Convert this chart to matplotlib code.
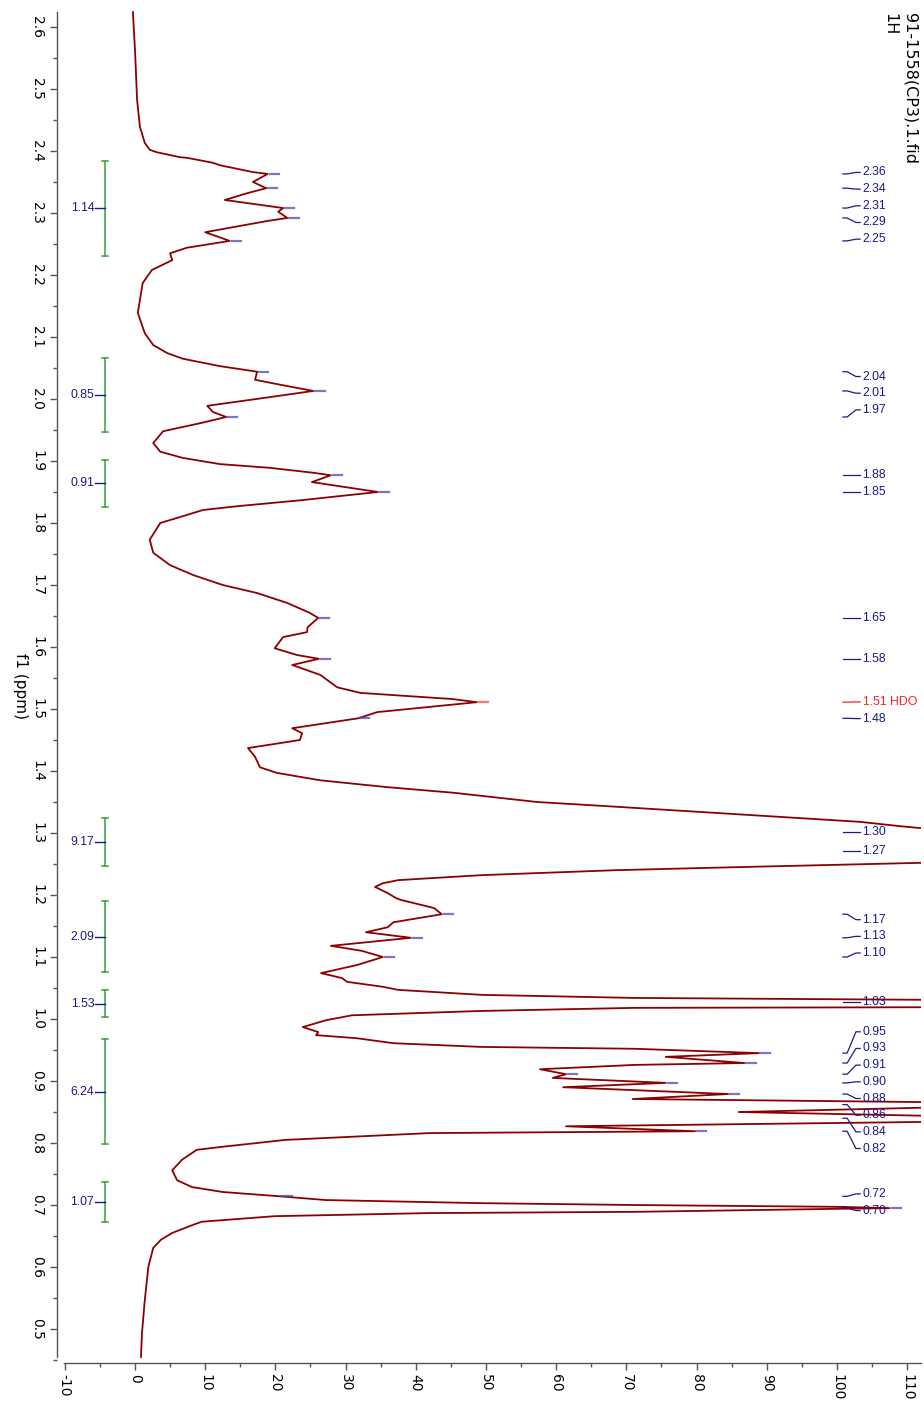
import numpy as np
import matplotlib
matplotlib.use("Agg")
import matplotlib.pyplot as plt
from matplotlib.ticker import MultipleLocator, FormatStrFormatter

# spectrum: chemical shift (ppm) and intensity
ppm = [2.624, 2.563, 2.482, 2.439, 2.413, 2.402, 2.398, 2.390, 2.389, 2.381,
       2.377, 2.366, 2.363, 2.350, 2.340, 2.332, 2.321, 2.308, 2.302, 2.292,
       2.287, 2.269, 2.255, 2.244, 2.235, 2.224, 2.208, 2.187, 2.139, 2.106,
       2.087, 2.074, 2.065, 2.053, 2.044, 2.031, 2.023, 2.013, 2.003, 1.989,
       1.979, 1.971, 1.961, 1.948, 1.929, 1.915, 1.905, 1.895, 1.889, 1.881,
       1.877, 1.866, 1.850, 1.837, 1.827, 1.821, 1.813, 1.800, 1.773, 1.752,
       1.732, 1.716, 1.700, 1.687, 1.671, 1.655, 1.647, 1.632, 1.624, 1.616,
       1.598, 1.587, 1.581, 1.571, 1.555, 1.535, 1.526, 1.516, 1.511, 1.495,
       1.485, 1.469, 1.461, 1.450, 1.437, 1.423, 1.406, 1.397, 1.385, 1.374,
       1.365, 1.350, 1.344, 1.334, 1.324, 1.318, 1.311, 1.308, 1.302, 1.287,
       1.271, 1.252, 1.245, 1.240, 1.232, 1.224, 1.219, 1.213, 1.203, 1.195,
       1.192, 1.179, 1.169, 1.156, 1.148, 1.140, 1.131, 1.118, 1.110, 1.100,
       1.087, 1.074, 1.066, 1.060, 1.052, 1.047, 1.039, 1.034, 1.031, 1.028,
       1.019, 1.018, 1.013, 1.006, 0.998, 0.987, 0.979, 0.974, 0.969, 0.961,
       0.955, 0.952, 0.945, 0.939, 0.929, 0.926, 0.919, 0.911, 0.905, 0.897,
       0.890, 0.879, 0.871, 0.866, 0.862, 0.857, 0.850, 0.844, 0.840, 0.834,
       0.827, 0.819, 0.816, 0.805, 0.794, 0.789, 0.773, 0.756, 0.740, 0.729,
       0.721, 0.714, 0.708, 0.703, 0.700, 0.697, 0.695, 0.694, 0.689, 0.687,
       0.682, 0.673, 0.669, 0.655, 0.644, 0.631, 0.600, 0.547, 0.494, 0.455]
intensity = [-0.3, 0.0, 0.3, 0.7, 1.4, 2.1, 3.1, 6.4, 7.4, 11.1,
             12.1, 16.8, 18.9, 16.8, 18.7, 16.0, 12.8, 21.1, 20.4, 21.7,
             18.8, 10.0, 13.5, 7.4, 5.0, 5.3, 2.4, 1.1, 0.4, 1.4,
             2.6, 4.6, 6.8, 12.1, 17.4, 17.1, 20.7, 25.4, 19.2, 10.3,
             11.1, 13.0, 9.3, 4.0, 2.6, 3.6, 6.8, 12.1, 19.2, 25.4,
             27.9, 25.2, 34.6, 23.9, 14.5, 9.7, 7.4, 3.6, 2.1, 2.6,
             5.0, 8.3, 12.5, 17.4, 21.7, 24.9, 26.1, 24.6, 24.5, 21.1,
             19.9, 23.1, 26.2, 22.4, 26.4, 28.8, 32.1, 45.3, 48.7, 34.5,
             31.8, 22.4, 23.8, 23.5, 16.1, 17.1, 17.8, 20.2, 26.4, 35.9,
             45.3, 57.3, 66.2, 80.5, 94.7, 103.3, 109.0, 111.8, 150.0, 135.0,
             160.0, 112.3, 86.0, 68.4, 49.3, 37.5, 35.3, 34.2, 36.0, 37.2,
             37.9, 42.6, 43.7, 36.8, 36.0, 32.9, 39.3, 27.9, 32.3, 35.3,
             31.6, 26.5, 29.5, 30.2, 35.3, 37.5, 49.3, 71.2, 112.3, 140.0,
             112.3, 71.2, 49.3, 30.9, 27.2, 23.9, 26.1, 25.8, 31.6, 36.8,
             49.3, 71.2, 88.9, 75.6, 86.8, 71.2, 57.7, 61.4, 59.5, 75.6,
             61.0, 84.5, 70.9, 112.3, 140.0, 112.3, 86.0, 112.3, 150.0, 112.3,
             61.4, 79.8, 41.9, 21.4, 12.5, 8.8, 6.7, 5.3, 6.0, 8.1,
             12.5, 20.7, 27.2, 49.3, 71.2, 100.7, 107.5, 100.7, 71.2, 41.9,
             19.9, 9.5, 8.5, 5.3, 3.7, 2.6, 1.9, 1.4, 1.0, 0.85]

# peak picking
peak_ppm = [2.363, 2.340, 2.308, 2.292, 2.255, 2.044, 2.013, 1.971, 1.877, 1.850,
            1.647, 1.581, 1.511, 1.485, 1.302, 1.271, 1.169, 1.131, 1.100, 1.028,
            0.945, 0.929, 0.911, 0.897, 0.879, 0.862, 0.840, 0.819, 0.714, 0.695]
peak_height = [18.9, 18.7, 21.1, 21.7, 13.5, 17.4, 25.4, 13.0, 27.9, 34.6,
               26.1, 26.2, 48.7, 31.8, 150.0, 160.0, 43.7, 39.3, 35.3, 140.0,
               88.9, 86.8, 61.4, 75.6, 84.5, 140.0, 150.0, 79.8, 20.7, 107.5]
peak_label = ["2.36", "2.34", "2.31", "2.29", "2.25", "2.04", "2.01", "1.97", "1.88", "1.85",
              "1.65", "1.58", "1.51 HDO", "1.48", "1.30", "1.27", "1.17", "1.13", "1.10", "1.03",
              "0.95", "0.93", "0.91", "0.90", "0.88", "0.86", "0.84", "0.82", "0.72", "0.70"]
peak_group = [1, 1, 1, 1, 1, 2, 2, 2, 3, 4,
              5, 6, 7, 8, 9, 10, 11, 11, 11, 12,
              13, 13, 13, 13, 13, 13, 13, 13, 14, 15]

# integrals
integral_start = [2.384, 2.066, 1.902, 1.324, 1.190, 1.047, 0.968, 0.737]
integral_end = [2.231, 1.947, 1.826, 1.247, 1.076, 1.003, 0.798, 0.673]
integral_value = ["1.14", "0.85", "0.91", "9.17", "2.09", "1.53", "6.24", "1.07"]

NAVY = "#1a1a8a"
GREEN = "#3a9e3a"
SPEC = "#8b0000"


def spread_labels(pos, groups, gap):
    pos = np.array(pos, dtype=float)
    lab = pos.copy()
    for g in sorted(set(groups)):
        idx = [i for i in range(len(pos)) if groups[i] == g]
        if len(idx) > 1:
            c = pos[idx].mean()
            for k, i in enumerate(idx):
                lab[i] = c + gap * ((len(idx) - 1) / 2 - k)
    for _ in range(200):
        moved = False
        for i in range(len(lab) - 1):
            d = lab[i] - lab[i + 1]
            if d < gap - 1e-9:
                s = (gap - d) / 2
                lab[i] += s
                lab[i + 1] -= s
                moved = True
        if not moved:
            break
    return lab


plt.rcParams['axes.unicode_minus'] = False
plt.rcParams['font.family'] = 'DejaVu Sans'

W, H = 924, 1405
fig = plt.figure(figsize=(W / 100, H / 100), dpi=100)
ax = fig.add_axes([57 / W, 42 / H, (921 - 57) / W, (1363 - 10) / H])

ax.plot(intensity, ppm, color=SPEC, lw=1.3, solid_joinstyle='round')

ax.set_xlim(-11.11, 111.97)
ax.set_ylim(0.4452, 2.6274)

# peak tip markers
for p, h, lab in zip(peak_ppm, peak_height, peak_label):
    c = "#ff4444" if "HDO" in lab else "#4a4ab0"
    ax.plot([h + 0.3, h + 1.6], [p, p], color=c, lw=1.6, alpha=0.75)

# peak labels on the right
lab_pos = spread_labels(peak_ppm, peak_group, 0.0269)
for p, lp, lab in zip(peak_ppm, lab_pos, peak_label):
    c = "#ff2020" if "HDO" in lab else NAVY
    ax.plot([100.85, 101.45, 102.7, 103.3], [p, p, lp, lp], color=c, lw=0.9,
            clip_on=False)
    ax.text(103.65, lp, lab, color=c, fontsize=8.8, family='Liberation Sans',
            ha='left', va='center', clip_on=False)

# integral brackets on the left
for a, b, v in zip(integral_start, integral_end, integral_value):
    ax.plot([-4.27, -4.27], [a, b], color=GREEN, lw=1.1)
    ax.plot([-4.75, -3.8], [a, a], color=GREEN, lw=1.1)
    ax.plot([-4.75, -3.8], [b, b], color=GREEN, lw=1.1)
    m = (a + b) / 2
    ax.plot([-5.7, -4.27], [m, m], color=NAVY, lw=1.0)
    ax.text(-5.8, m, v, color=NAVY, fontsize=8.8, family='Liberation Sans',
            ha='right', va='center')

# axes styling
for s in ['top', 'right']:
    ax.spines[s].set_visible(False)
ax.spines['left'].set_bounds(0.455, 2.624)
ax.spines['bottom'].set_bounds(-10.1, 111.97)
for s in ['left', 'bottom']:
    ax.spines[s].set_color('#555555')
    ax.spines[s].set_linewidth(1.0)

ax.yaxis.set_major_locator(MultipleLocator(0.1))
ax.yaxis.set_minor_locator(MultipleLocator(0.05))
ax.yaxis.set_major_formatter(FormatStrFormatter('%.1f'))
ax.xaxis.set_major_locator(MultipleLocator(10))
ax.xaxis.set_minor_locator(MultipleLocator(5))

ax.tick_params(axis='both', which='major', length=5, width=1, color='#555555',
               labelsize=10, direction='out')
ax.tick_params(axis='both', which='minor', length=2.8, width=1, color='#555555',
               direction='out')
ax.tick_params(axis='y', pad=4, labelrotation=-90)
ax.tick_params(axis='x', pad=3, labelrotation=-90)
for t in ax.get_yticklabels():
    t.set_va('center')

fig.text(20 / W, 1 - 686 / H, 'f1 (ppm)', rotation=-90, ha='center', va='center',
         fontsize=11)
fig.text(917 / W, 1 - 13 / H, '91-1558(CP3).1.fid', rotation=-90, ha='right',
         va='top', fontsize=11.5)
fig.text(897 / W, 1 - 13 / H, '1H', rotation=-90, ha='right', va='top',
         fontsize=11.5)

fig.savefig('out.png', dpi=100)
